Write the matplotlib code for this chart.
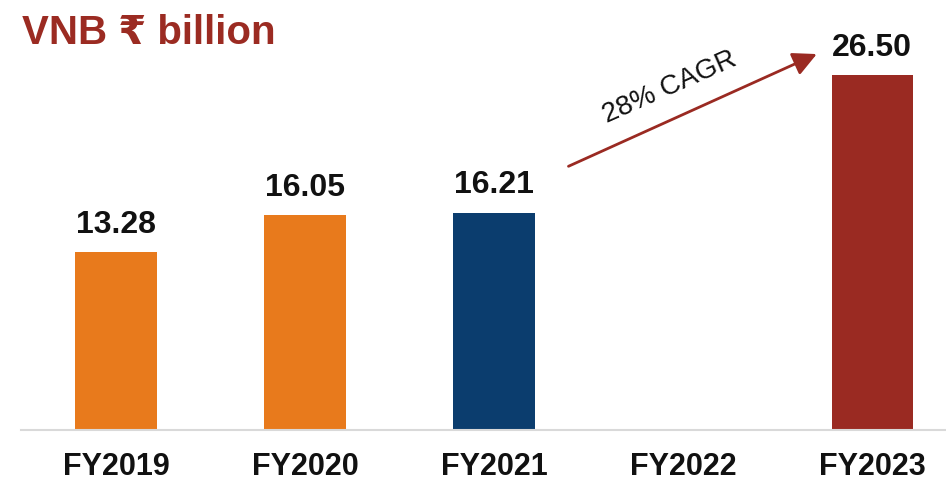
import matplotlib.pyplot as plt

plt.rcParams['font.family'] = ['Liberation Sans', 'DejaVu Sans']

years = ["FY2019", "FY2020", "FY2021", "FY2022", "FY2023"]
vnb = [13.28, 16.05, 16.21, None, 26.50]
colors = ["#E87A1C", "#E87A1C", "#0B3D6E", "#FFFFFF", "#9A2A22"]
cagr_text = "28% CAGR"

fig = plt.figure(figsize=(9.46, 4.84), dpi=100)
ax = fig.add_axes([0.022, 0.1116, 0.978, 0.8884])

x = list(range(len(years)))
heights = [v if v is not None else 0 for v in vnb]
ax.bar(x, heights, width=0.43, color=colors)

for i, v in enumerate(vnb):
    if v is None:
        continue
    ax.annotate(f"{v:.2f}", (i, v), xytext=(0, 14), textcoords="offset points",
                ha="center", va="baseline", fontsize=23, fontweight="bold", color="#111111")

ax.set_xlim(-0.503, 4.39)
ax.set_ylim(0, 32.1)
ax.set_xticks(x)
ax.set_xticklabels(years, fontsize=22, fontweight="bold", color="#111111")
ax.tick_params(axis="x", length=0, pad=16)
ax.set_yticks([])
for s in ["top", "right", "left"]:
    ax.spines[s].set_visible(False)
ax.spines["bottom"].set_color("#D9D9D9")
ax.spines["bottom"].set_linewidth(1.5)

# CAGR arrow
ax.annotate("", xy=(3.72, 28.15), xytext=(2.38, 19.6),
            arrowprops=dict(arrowstyle="-|>,head_length=0.6,head_width=0.3",
                            color="#9A2A22", lw=2, mutation_scale=24))
ax.text(2.93, 25.6, cagr_text, rotation=24, ha="center", va="center",
        fontsize=20, color="#111111", rotation_mode="anchor")

fig.text(0.023, 0.932, "VNB ₹ billion", fontsize=29, fontweight="bold",
         color="#9B2B22", ha="left", va="center")

fig.savefig("out.png", dpi=100)
